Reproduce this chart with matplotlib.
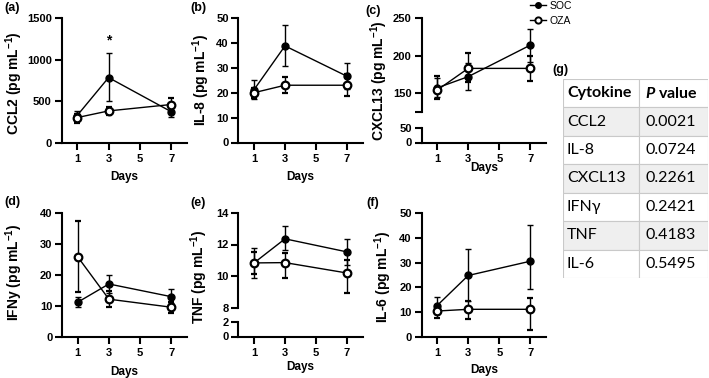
import numpy as np
import matplotlib
matplotlib.use("Agg")
import matplotlib.pyplot as plt
from matplotlib.lines import Line2D
from matplotlib.patches import Rectangle

plt.rcParams["font.family"] = ["Liberation Sans", "DejaVu Sans"]
plt.rcParams["font.weight"] = "bold"
plt.rcParams["mathtext.fontset"] = "custom"
plt.rcParams["mathtext.rm"] = "Liberation Sans:bold"
plt.rcParams["mathtext.bf"] = "Liberation Sans:bold"
plt.rcParams["mathtext.bfit"] = "Lato:italic:bold"

W, H = 709, 378
DAYS = [1, 3, 7]
XTICKS = [1, 3, 5, 7]

# ---------------- values (mean, bar low, bar high) ----------------
CCL2_SOC = [330, 785, 375];   CCL2_SOC_LO = [275, 505, 310];   CCL2_SOC_HI = [390, 1080, 435]
CCL2_OZA = [305, 385, 462];   CCL2_OZA_LO = [245, 336, 390];   CCL2_OZA_HI = [350, 436, 545]

IL8_SOC = [21.2, 38.8, 26.6]; IL8_SOC_LO = [17.5, 30.6, 21.5]; IL8_SOC_HI = [25.0, 47.2, 32.1]
IL8_OZA = [20.0, 23.0, 23.0]; IL8_OZA_LO = [18.0, 19.9, 18.5]; IL8_OZA_HI = [22.0, 26.3, 27.4]

CXCL13_SOC = [157, 172, 214]; CXCL13_SOC_LO = [145, 154, 192]; CXCL13_SOC_HI = [170, 190, 236]
CXCL13_OZA = [154, 183, 183]; CXCL13_OZA_LO = [142, 165, 166]; CXCL13_OZA_HI = [173, 203, 200]

IFN_SOC = [11.3, 17.2, 13.1]; IFN_SOC_LO = [9.7, 14.4, 11.0];  IFN_SOC_HI = [12.9, 20.0, 15.5]
IFN_OZA = [26.0, 12.3, 9.7];  IFN_OZA_LO = [14.6, 9.8, 7.7];   IFN_OZA_HI = [37.6, 14.8, 11.5]

TNF_SOC = [10.83, 12.36, 11.53]; TNF_SOC_LO = [9.9, 11.64, 10.73]; TNF_SOC_HI = [11.8, 13.17, 12.34]
TNF_OZA = [10.83, 10.85, 10.19]; TNF_OZA_LO = [10.1, 9.85, 8.91];  TNF_OZA_HI = [11.5, 11.43, 11.04]

IL6_SOC = [12.6, 24.8, 30.6]; IL6_SOC_LO = [9.0, 14.6, 19.2];  IL6_SOC_HI = [16.2, 35.4, 45.3]
IL6_OZA = [10.4, 11.1, 11.1]; IL6_OZA_LO = [7.6, 7.2, 2.7];    IL6_OZA_HI = [12.4, 14.5, 15.8]

CYTOKINES = ["CCL2", "IL-8", "CXCL13", "IFNγ", "TNF", "IL-6"]
P_VALUES = ["0.0021", "0.0724", "0.2261", "0.2421", "0.4183", "0.5495"]

fig = plt.figure(figsize=(W / 100, H / 100), dpi=100, facecolor="white")


def px_ax(l, t, r, b):
    return fig.add_axes([l / W, 1 - b / H, (r - l) / W, (b - t) / H])


def style(ax, xaxis=True):
    for s in ["top", "right"]:
        ax.spines[s].set_visible(False)
    ax.spines["left"].set_linewidth(1.5)
    ax.spines["bottom"].set_linewidth(1.5)
    ax.tick_params(width=1.5, length=5, labelsize=8, pad=2)
    ax.tick_params(axis="x", pad=3)
    ax.set_facecolor("none")
    ax.set_xlim(0, 8)
    if xaxis:
        ax.set_xticks(XTICKS)
    else:
        ax.spines["bottom"].set_visible(False)
        ax.set_xticks([])


def draw(ax, soc, slo, shi, oza, olo, ohi):
    ax.errorbar(DAYS, soc, yerr=[np.subtract(soc, slo), np.subtract(shi, soc)], fmt="-o",
                color="black", lw=1, ms=5, mfc="black", mec="black",
                elinewidth=1, capsize=2.5, capthick=1, clip_on=False, zorder=3)
    ax.errorbar(DAYS, oza, yerr=[np.subtract(oza, olo), np.subtract(ohi, oza)], fmt="-o",
                color="black", lw=1, ms=5.5, mfc="white", mec="black", mew=1.6,
                elinewidth=1, capsize=2.5, capthick=1, clip_on=False, zorder=4)


def ylab(x, y, txt):
    fig.text(x / W, 1 - y / H, txt + r" (pg mL$^{\mathbf{-1}}$)", rotation=90,
             ha="center", va="center", fontsize=10)


def xlab(x, y):
    fig.text(x / W, 1 - y / H, "Days", ha="center", va="center", fontsize=8.5)


def plabel(x, y, txt):
    fig.text(x / W, 1 - y / H, txt, ha="left", va="center", fontsize=9)


# (a) CCL2
ax = px_ax(61.5, 18, 187, 143)
style(ax)
ax.set_ylim(0, 1500)
ax.set_yticks([0, 500, 1000, 1500])
draw(ax, CCL2_SOC, CCL2_SOC_LO, CCL2_SOC_HI, CCL2_OZA, CCL2_OZA_LO, CCL2_OZA_HI)
ax.text(3, 1150, "*", ha="center", va="bottom", fontsize=10)
ylab(14, 83, "CCL2"); xlab(124, 177); plabel(4, 8.5, "(a)")

# (b) IL-8
ax = px_ax(238.5, 18, 362.5, 142.5)
style(ax)
ax.set_ylim(0, 50)
ax.set_yticks([0, 10, 20, 30, 40, 50])
draw(ax, IL8_SOC, IL8_SOC_LO, IL8_SOC_HI, IL8_OZA, IL8_OZA_LO, IL8_OZA_HI)
ylab(201, 80, "IL-8"); xlab(300.5, 177); plabel(190, 8.5, "(b)")

# (c) CXCL13, broken axis
ax = px_ax(421.5, 18, 546, 112)
style(ax, xaxis=False)
ax.set_ylim(125, 250)
ax.set_yticks([125, 150, 200, 250])
ax.set_yticklabels(["", "150", "200", "250"])
draw(ax, CXCL13_SOC, CXCL13_SOC_LO, CXCL13_SOC_HI, CXCL13_OZA, CXCL13_OZA_LO, CXCL13_OZA_HI)
axl = px_ax(421.5, 128, 546, 142.5)
style(axl)
axl.set_ylim(0, 50)
axl.set_yticks([0, 50])
ylab(379, 81, "CXCL13"); xlab(484, 168); plabel(365, 11, "(c)")

# (d) IFNy
ax = px_ax(62, 213.3, 187, 337.3)
style(ax)
ax.set_ylim(0, 40)
ax.set_yticks([0, 10, 20, 30, 40])
draw(ax, IFN_SOC, IFN_SOC_LO, IFN_SOC_HI, IFN_OZA, IFN_OZA_LO, IFN_OZA_HI)
ylab(14, 272, "IFNy"); xlab(124.5, 372); plabel(4, 202, "(d)")

# (e) TNF, broken axis
ax = px_ax(238.5, 213, 362.5, 307.5)
style(ax, xaxis=False)
ax.set_ylim(8, 14)
ax.set_yticks([8, 10, 12, 14])
draw(ax, TNF_SOC, TNF_SOC_LO, TNF_SOC_HI, TNF_OZA, TNF_OZA_LO, TNF_OZA_HI)
axl = px_ax(238.5, 322, 362.5, 336.5)
style(axl)
axl.set_ylim(0, 2)
axl.set_yticks([0, 2])
ylab(199, 277, "TNF"); xlab(300.5, 367); plabel(190, 203, "(e)")

# (f) IL-6
ax = px_ax(421.5, 213.3, 546, 336.7)
style(ax)
ax.set_ylim(0, 50)
ax.set_yticks([0, 10, 20, 30, 40, 50])
draw(ax, IL6_SOC, IL6_SOC_LO, IL6_SOC_HI, IL6_OZA, IL6_OZA_LO, IL6_OZA_HI)
ylab(383, 277, "IL-6"); xlab(484, 370); plabel(366, 203, "(f)")

# legend
handles = [Line2D([], [], color="black", lw=1, marker="o", ms=4, mfc="black"),
           Line2D([], [], color="black", lw=1, marker="o", ms=4.5, mfc="white", mew=1.4)]
fig.legend(handles, ["SOC", "OZA"], loc="upper left", bbox_to_anchor=(530 / W, 1 - 1 / H),
           frameon=False, handlelength=1.5, handletextpad=0.4,
           labelspacing=0.45, borderpad=0, borderaxespad=0,
           prop={"family": ["Liberation Sans"], "weight": "normal", "size": 7.5})

# (g) table
plabel(552, 70, "(g)")
axt = px_ax(563, 79, 708, 278)
axt.set_xlim(0, 145)
axt.set_ylim(199, 0)
axt.axis("off")
rh = 199 / 7
c1 = 76
tfont = ["Lato", "DejaVu Sans"]
rows = [("Cytokine", r"$\mathbfit{P}$ value")] + list(zip(CYTOKINES, P_VALUES))
for i, (name, pv) in enumerate(rows):
    fc = "#efefef" if i % 2 == 1 else "white"
    for x0, w in [(0, c1), (c1, 145 - c1)]:
        axt.add_patch(Rectangle((x0, i * rh), w, rh, facecolor=fc, edgecolor="#c9c9c9", lw=0.8))
    wt = "bold" if i == 0 else "normal"
    axt.text(4, (i + 0.5) * rh, name, ha="left", va="center", fontsize=11.5,
             family=tfont, weight=wt)
    axt.text(c1 + 6, (i + 0.5) * rh, pv, ha="left", va="center", fontsize=11.5,
             family=tfont, weight=wt)

fig.savefig("out.png", dpi=100, facecolor="white")
